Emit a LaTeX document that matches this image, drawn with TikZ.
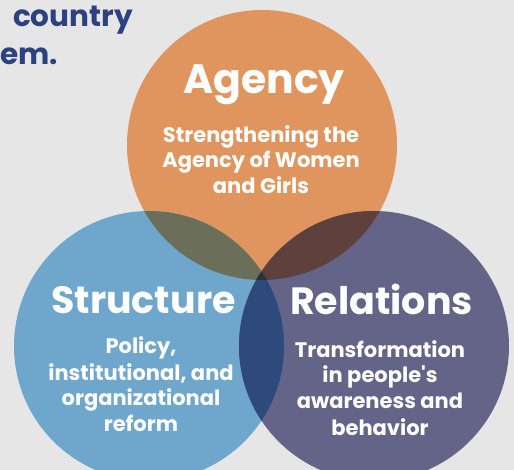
\documentclass[tikz,border=0pt]{standalone}
\usepackage{fontspec}
\setmainfont{Poppins}[Ligatures=TeXOff]
\definecolor{bg}{HTML}{E6E6E6}
\definecolor{cAg}{HTML}{E0955F}
\definecolor{cSt}{HTML}{6EA6CC}
\definecolor{cRe}{HTML}{636488}
\definecolor{cAS}{HTML}{6B6E58}
\definecolor{cAR}{HTML}{5E413C}
\definecolor{cSR}{HTML}{2E4A7C}
\definecolor{cASR}{HTML}{2C3140}
\definecolor{navy}{HTML}{2B4180}
\tikzset{
  title/.style={anchor=base, text=white, font=\bfseries\fontsize{38}{40}\selectfont, inner sep=0pt},
  sub/.style={anchor=base, text=white, font=\bfseries\fontsize{21}{25}\selectfont, inner sep=0pt},
  head/.style={text=navy, font=\bfseries\fontsize{29.5}{32}\selectfont, inner sep=0pt, anchor=base east}
}
\begin{document}
\begin{tikzpicture}[x=1pt,y=-1pt]
\fill[bg] (0,0) rectangle (514,470);
\useasboundingbox (0,0) rectangle (514,470);
\begin{scope}
\clip (0,0) rectangle (514,470);
\node[head] (h1) at (133,27) {country};
\node[head, anchor=base west] (h2) at (0,65) {em.};
\coordinate (A) at (262,145);
\coordinate (S) at (149,346);
\coordinate (R) at (374,346);
\def\rr{135pt}
\fill[cAg] (A) circle[radius=\rr];
\fill[cSt] (S) circle[radius=\rr];
\fill[cRe] (R) circle[radius=\rr];
\begin{scope}
  \clip (A) circle[radius=\rr];
  \fill[cAS] (S) circle[radius=\rr];
  \fill[cAR] (R) circle[radius=\rr];
\end{scope}
\begin{scope}
  \clip (S) circle[radius=\rr];
  \fill[cSR] (R) circle[radius=\rr];
  \clip (R) circle[radius=\rr];
  \fill[cASR] (A) circle[radius=\rr];
\end{scope}
\node[title, font=\bfseries\fontsize{41}{44}\selectfont] (ta) at (264,94) {Agency};
\node[sub] (sa1) at (261,142.3) {Strengthening the};
\node[sub] (sa2) at (261,168) {Agency of Women};
\node[sub] (sa3) at (261,193.5) {and Girls};
\node[title] (ts) at (143.5,313) {Structure};
\node[sub] (ss1) at (141,353.3) {Policy,};
\node[sub] (ss2) at (141,380) {institutional, and};
\node[sub] (ss3) at (141,405.5) {organizational};
\node[sub] (ss4) at (141,431.7) {reform};
\node[title] (tr) at (381.5,314.5) {Relations};
\node[sub] (sr1) at (380,357.3) {Transformation};
\node[sub] (sr2) at (380,382) {in people's};
\node[sub] (sr3) at (380,408.3) {awareness and};
\node[sub] (sr4) at (380,435) {behavior};
\end{scope}
\end{tikzpicture}
\end{document}
